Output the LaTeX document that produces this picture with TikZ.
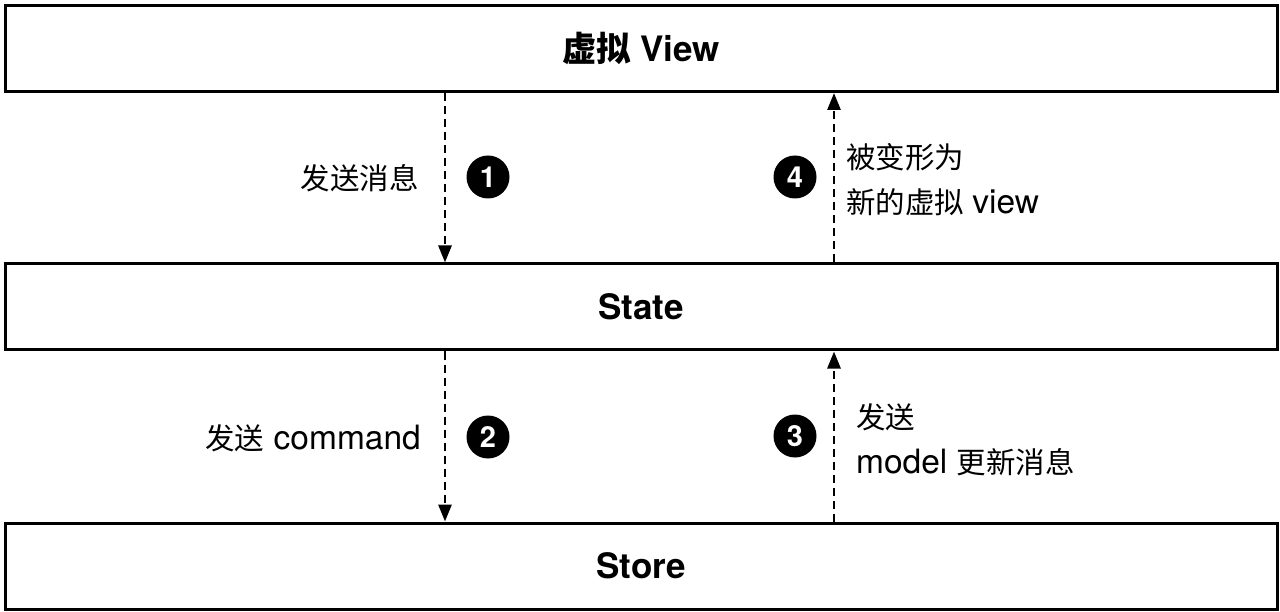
\documentclass[tikz,border=0pt]{standalone}
\usepackage{fontspec}
\setmainfont{TeX Gyre Heros}
\newfontfamily\cjk{Noto Sans CJK SC}[Scale=0.88]
\usetikzlibrary{arrows.meta}
\begin{document}
\begin{tikzpicture}[x=1pt,y=-1pt,
  box/.style={draw,line width=3pt,minimum width=1272pt,minimum height=86pt,inner sep=0pt,
    font=\fontsize{35}{40}\selectfont\bfseries},
  flow/.style={line width=2.8pt,dash pattern=on 8pt off 5pt,-{Triangle[width=13pt,length=17pt]}},
  num/.style={circle,fill=black,minimum size=43pt,inner sep=0pt,text=white,
    font=\fontsize{29}{29}\selectfont\bfseries},
  lbl/.style={inner sep=0pt,align=left,font=\fontsize{33.5}{45}\selectfont}]
\useasboundingbox (0,0) rectangle (1280,612);
\fill[white] (0,0) rectangle (1280,612);
\node[box] (view) at (641,48.5) {{\cjk\fontsize{39}{40}\selectfont 虚拟} View};
\node[box] (state) at (641,307) {State};
\node[box] (store) at (641,566) {Store};
\coordinate (xl) at (445,0);
\coordinate (xr) at (834,0);
\draw[flow] (xl |- view.south) -- (xl |- state.north);
\draw[flow] (xr |- state.north) -- (xr |- view.south);
\draw[flow] (xl |- state.south) -- (xl |- store.north);
\draw[flow] (xr |- store.north) -- (xr |- state.south);
\node[num] (n1) at (488,177) {1};
\node[num] (n4) at (795,177) {4};
\node[num] (n2) at (488,437) {2};
\node[num] (n3) at (795,436) {3};
\node[lbl,anchor=east] (l1) at (419,178) {\cjk 发送消息};
\node[lbl,anchor=west] (l4) at (846,180) {{\cjk 被变形为}\\{\cjk 新的虚拟}\hspace{-1pt} view};
\node[lbl,anchor=east] (l2) at (421,438) {{\cjk 发送} command};
\node[lbl,anchor=west] (l3) at (856,440) {{\cjk 发送}\\model {\cjk 更新消息}};
\end{tikzpicture}
\end{document}
